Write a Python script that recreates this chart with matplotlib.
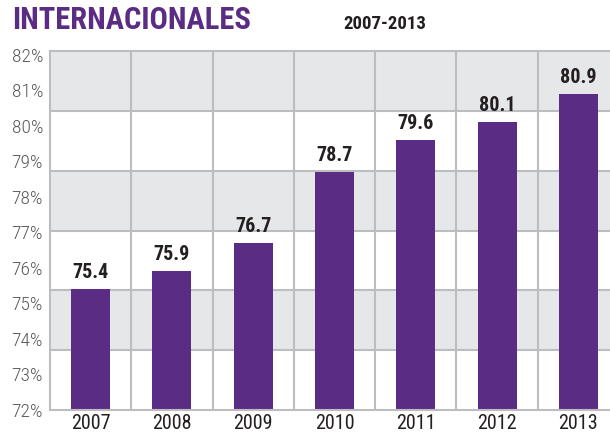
import numpy as np
import matplotlib
matplotlib.use("Agg")
from matplotlib import pyplot as plt
from matplotlib import font_manager

years = ["2007", "2008", "2009", "2010", "2011", "2012", "2013"]
values = [75.4, 75.9, 76.7, 78.7, 79.6, 80.1, 80.9]
ytick_values = [72, 73, 74, 75, 76, 77, 78, 79, 80, 81, 82]
title = "INTERNACIONALES"
subtitle = "2007-2013"

purple = "#5b2c83"
band_gray = "#e6e7e8"
grid_gray = "#bcbdc0"

names = {f.name for f in font_manager.fontManager.ttflist}
narrow = [n for n in ['Roboto Condensed', 'DejaVu Sans Condensed', 'Liberation Sans Narrow'] if n in names]
plt.rcParams['font.family'] = narrow + ['Roboto', 'DejaVu Sans']

fig = plt.figure(figsize=(6.1, 4.36), dpi=100)
# the reference crops the last column at the right edge, so the axes runs past the figure
ax = fig.add_axes([50 / 610, 1 - 410 / 436, 569 / 610, 359 / 436])

ymin, ymax = 72, 82.1
ax.set_xlim(-0.5, 6.5)
ax.set_ylim(ymin, ymax)

# alternating bands (6 of them, not aligned with the % ticks)
edges = np.linspace(ymin, ymax, 7)
for i in range(6):
    c = band_gray if i % 2 == 1 else "white"
    ax.axhspan(edges[i], edges[i + 1], color=c, zorder=0, lw=0)
for e in edges[1:-1]:
    ax.axhline(e, color=grid_gray, lw=1.5, zorder=1)
for k in range(1, 7):
    ax.axvline(k - 0.5, color=grid_gray, lw=1.5, zorder=1)

x = np.arange(len(years))
bars = ax.bar(x, np.array(values) - ymin, bottom=ymin, width=0.48, color=purple, zorder=2)

for xi, v in zip(x, values):
    ax.annotate(f"{v:.1f}", (xi, v), xytext=(0, 5), textcoords="offset points",
                ha="center", va="bottom", fontsize=14.5, fontweight="semibold", color="#231f20")

ax.set_xticks(x)
ax.set_xticklabels(years, fontsize=14.5, color="#231f20")
ax.set_yticks(ytick_values)
ax.set_yticklabels([f"{t}%" for t in ytick_values], fontsize=14, fontweight="light", color="#58595b")
ax.tick_params(axis="both", length=0)
ax.tick_params(axis="x", pad=3)
ax.tick_params(axis="y", pad=5)

for side in ["left", "top", "bottom"]:
    ax.spines[side].set_color(grid_gray)
    ax.spines[side].set_linewidth(1.5)
ax.spines["right"].set_visible(False)

fig.text(12 / 610, 1 - 29 / 436, title, fontsize=22, fontweight="bold", color=purple,
         ha="left", va="baseline")
fig.text(343 / 610, 1 - 29 / 436, subtitle, fontsize=13.5, fontweight="bold", color="#231f20",
         ha="left", va="baseline")

fig.savefig("out.png", dpi=100)
